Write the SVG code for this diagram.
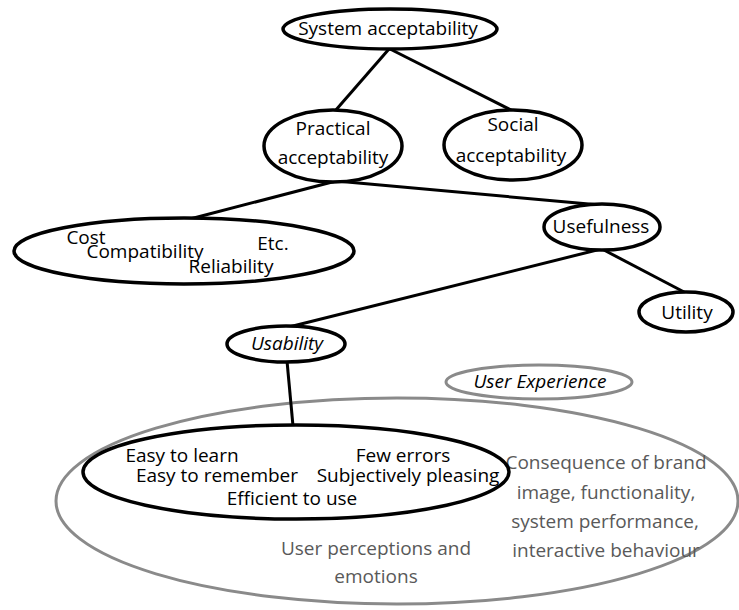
<svg xmlns="http://www.w3.org/2000/svg" width="739" height="610" viewBox="0 0 739 610">
<style>
.n{fill:#fff;stroke:#000;stroke-width:3.5}
.g{fill:none;stroke:#8a8a8a;stroke-width:3}
.gw{fill:#fff;stroke:#8a8a8a;stroke-width:3}
.c line{stroke:#000;stroke-width:3}
text{font-family:"Open Sans","Liberation Sans",sans-serif;font-size:19px;fill:#000;text-anchor:middle}
.i{font-style:italic}
.gt{fill:#595959}
</style>
<rect width="739" height="610" fill="#fff"/>
<g id="user-experience-area">
<ellipse class="g" cx="397" cy="501" rx="341" ry="103"/>
<text class="gt" x="606" y="469">Consequence of brand</text>
<text class="gt" x="606" y="499">image, functionality,</text>
<text class="gt" x="605" y="528">system performance,</text>
<text class="gt" x="606" y="557">interactive behaviour</text>
<text class="gt" x="376" y="555">User perceptions and</text>
<text class="gt" x="376" y="583">emotions</text>
</g>
<g id="connectors" class="c">
<line x1="389" y1="49" x2="335" y2="111"/>
<line x1="390" y1="49" x2="513" y2="111"/>
<line x1="336" y1="181" x2="190" y2="219"/>
<line x1="336" y1="181" x2="600" y2="205"/>
<line x1="601" y1="249" x2="289" y2="327"/>
<line x1="602" y1="249" x2="686" y2="293"/>
<line x1="287" y1="361" x2="293" y2="426"/>
</g>
<g id="user-experience">
<ellipse class="gw" cx="539" cy="382" rx="93" ry="17"/>
<text class="i" x="540" y="388">User Experience</text>
</g>
<g id="system-acceptability">
<ellipse class="n" cx="390" cy="29" rx="107" ry="20"/>
<text x="388" y="35">System acceptability</text>
</g>
<g id="practical-acceptability">
<ellipse class="n" cx="333" cy="146" rx="69" ry="36"/>
<text x="333" y="135">Practical</text>
<text x="333" y="164">acceptability</text>
</g>
<g id="social-acceptability">
<ellipse class="n" cx="513" cy="145" rx="69" ry="35"/>
<text x="513" y="131">Social</text>
<text x="511" y="162">acceptability</text>
</g>
<g id="cost-etc">
<ellipse class="n" cx="184" cy="251" rx="170" ry="33"/>
<text x="86" y="244">Cost</text>
<text x="145" y="258">Compatibility</text>
<text x="231" y="273">Reliability</text>
<text x="273" y="250">Etc.</text>
</g>
<g id="usefulness">
<ellipse class="n" cx="602" cy="227" rx="58" ry="23"/>
<text x="601" y="233">Usefulness</text>
</g>
<g id="utility">
<ellipse class="n" cx="686" cy="312" rx="47" ry="20"/>
<text x="687" y="319">Utility</text>
</g>
<g id="usability">
<ellipse class="n" cx="286" cy="344" rx="59" ry="18"/>
<text class="i" x="287" y="350">Usability</text>
</g>
<g id="usability-attributes">
<ellipse class="n" cx="296" cy="472" rx="213" ry="47"/>
<text x="182" y="462">Easy to learn</text>
<text x="217" y="482">Easy to remember</text>
<text x="292" y="505">Efficient to use</text>
<text x="403" y="462">Few errors</text>
<text x="408" y="482">Subjectively pleasing</text>
</g>
</svg>
